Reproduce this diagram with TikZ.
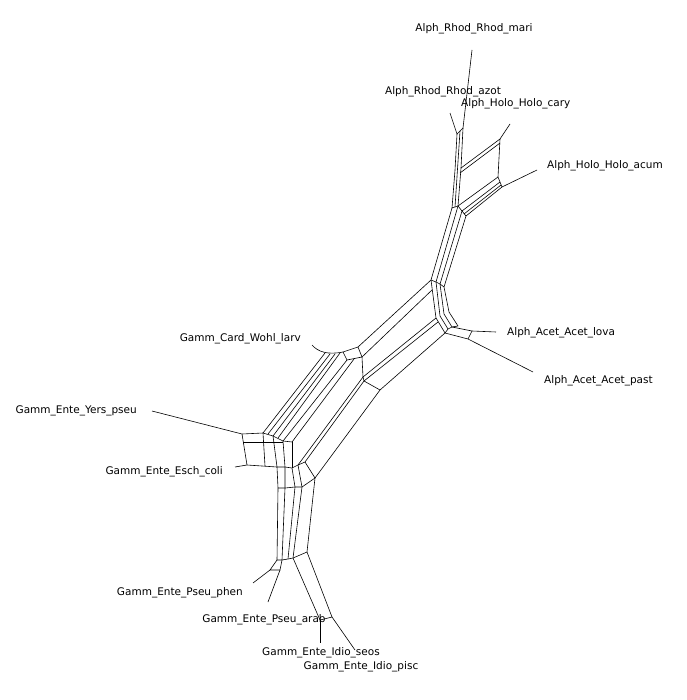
\documentclass[tikz,border=0pt]{standalone}
\usepackage{fontspec}
\setsansfont{DejaVu Sans}
\usetikzlibrary{calc}

\begin{document}
\begin{tikzpicture}[x=1pt, y=-1pt, every node/.style={font=\sffamily\fontsize{10.5}{12}\selectfont, inner sep=0pt},
    net/.style={line width=0.6pt}]
      \useasboundingbox (0,0) rectangle (686,700);
      % --- taxon labels ---
      \node (mari) at (474,29) {Alph\_Rhod\_Rhod\_mari};
      \node (azot) at (443,92) {Alph\_Rhod\_Rhod\_azot};
      \node[anchor=west] (cary) at (461,104) {Alph\_Holo\_Holo\_cary};
      \node[anchor=west] (acum) at (547,166) {Alph\_Holo\_Holo\_acum};
      \node[anchor=west] (lova) at (507,333) {Alph\_Acet\_Acet\_lova};
      \node[anchor=west] (past) at (544,381) {Alph\_Acet\_Acet\_past};
      \node[anchor=east] (larv) at (301,339) {Gamm\_Card\_Wohl\_larv};
      \node[anchor=east] (yers) at (137,411) {Gamm\_Ente\_Yers\_pseu};
      \node[anchor=east] (esch) at (223,472) {Gamm\_Ente\_Esch\_coli};
      \node[anchor=east] (phen) at (243,593) {Gamm\_Ente\_Pseu\_phen};
      \node (arab) at (264,620) {Gamm\_Ente\_Pseu\_arab};
      \node (seos) at (321,653) {Gamm\_Ente\_Idio\_seos};
      \node (pisc) at (361,667) {Gamm\_Ente\_Idio\_pisc};
      % --- Alpha: Rhod and Holo ---
      \draw[net] (472,50) -- (463,128);
      \draw[net] (450,113) -- (457,134) -- (463,128);
      \draw[net] (463,128) -- (461,168) -- (458,206);
      \draw[net] (460,131) -- (455,207);
      \draw[net] (457,134) -- (455,170) -- (452,208) -- (458,206);
      \draw[net] (510,124) -- (500,139) -- (498,177) -- (502,187) -- (537,170);
      \draw[net] (500,139) -- (461,168);
      \draw[net] (500,143) -- (460,173);
      \draw[net] (498,177) -- (458,206);
      \draw[net] (500,182) -- (462,211);
      \draw[net] (501,185) -- (464,214);
      \draw[net] (502,187) -- (466,216);
      \draw[net] (458,206) -- (462,211) -- (466,216);
      % --- Alpha trunk and Acet ---
      \draw[net] (452,208) -- (431,280) -- (436,318) -- (445,333);
      \draw[net] (458,206) -- (436,282) -- (440,316) -- (448,329);
      \draw[net] (462,211) -- (440,284) -- (444,314) -- (452,327);
      \draw[net] (466,216) -- (444,287) -- (449,312) -- (458,326);
      \draw[net] (431,280) -- (436,282) -- (440,284) -- (444,287);
      \draw[net] (445,333) -- (448,329) -- (452,327) -- (458,326);
      \draw[net] (452,327) -- (472,331) -- (496,332);
      \draw[net] (445,333) -- (468,339) -- (533,372);
      \draw[net] (472,331) -- (468,339);
      % --- central bands ---
      \draw[net] (431,280) -- (358,347);
      \draw[net] (432,290) -- (362,357);
      \draw[net] (343,352) -- (358,347) -- (362,357) -- (347,360) -- cycle;
      \draw[net] (312,345) .. controls (318,352) and (328,355) .. (343,352);
      \draw[net] (325,353) -- (263,433);
      \draw[net] (330,354) -- (268,434);
      \draw[net] (335,354) -- (273,436);
      \draw[net] (340,353) -- (278,438);
      \draw[net] (347,360) -- (283,441);
      \draw[net] (354,359) -- (292,442);
      \draw[net] (436,318) -- (363,377) -- (298,465);
      \draw[net] (438,322) -- (364,381) -- (305,462);
      \draw[net] (445,333) -- (380,390) -- (315,478);
      \draw[net] (362,357) -- (363,377) -- (364,381) -- (380,390);
      \draw[net] (298,465) -- (305,462);
      % --- Gamma block ---
      \draw[net] (152,411) -- (242,434) -- (263,433) -- (273,436) -- (283,441) -- (292,442);
      \draw[net] (235,467) -- (247,465) -- (277,467) -- (285,467) -- (292,468) -- (298,465);
      \draw[net] (242,434) -- (247,465);
      \draw[net] (243,442) -- (283,442);
      \draw[net] (263,433) -- (265,466);
      \draw[net] (273,436) -- (277,467);
      \draw[net] (283,441) -- (285,467);
      \draw[net] (292,442) -- (292,468);
      % --- lower trunk, Pseu and Idio ---
      \draw[net] (277,467) -- (278,488) -- (277,560);
      \draw[net] (285,467) -- (285,488) -- (282,560);
      \draw[net] (292,468) -- (295,487) -- (288,559);
      \draw[net] (298,465) -- (302,487) -- (293,558);
      \draw[net] (305,462) -- (315,478) -- (307,552);
      \draw[net] (278,488) -- (285,488) -- (295,487) -- (302,487) -- (315,478);
      \draw[net] (277,560) -- (282,560) -- (288,559) -- (293,558) -- (307,552);
      \draw[net] (277,560) -- (270,570) -- (280,570) -- (282,560);
      \draw[net] (270,570) -- (253,583);
      \draw[net] (280,570) -- (268,602);
      \draw[net] (293,558) -- (320,620) -- (332,617) -- (307,552);
      \draw[net] (320,620) -- (320,643);
      \draw[net] (332,617) -- (355,650);
    \end{tikzpicture}
\end{document}
